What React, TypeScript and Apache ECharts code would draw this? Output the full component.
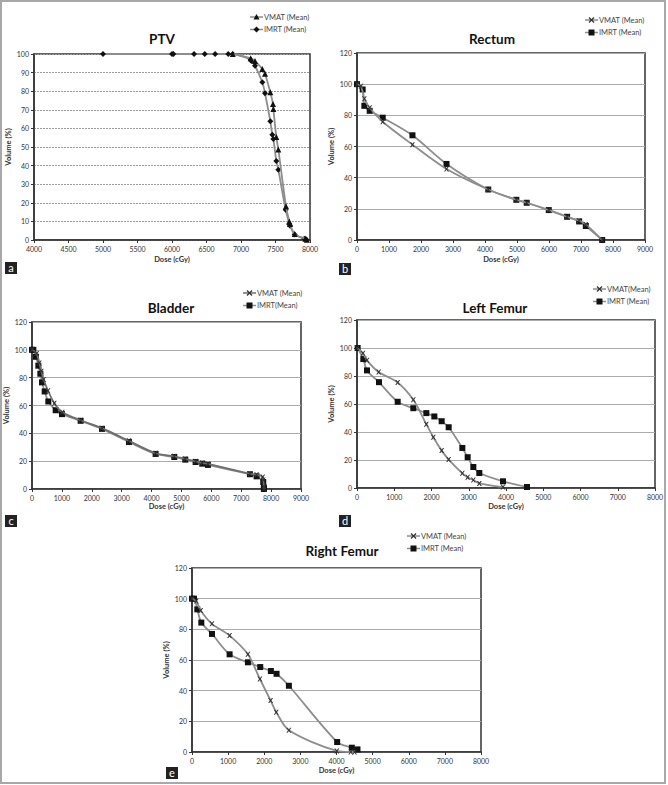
import React, { useEffect, useRef } from "react";
import * as echarts from "echarts";

// ---------- DATA (dose cGy, volume %) ----------
const ptvVmat = [
  [6880, 100], [7140, 97.7], [7203, 96.2], [7309, 92], [7348, 89.4], [7425, 79.4],
  [7464, 73.1], [7469, 70.4], [7512, 55.4], [7541, 48.7], [7652, 18.1], [7700, 9.9],
  [7710, 8.6], [7778, 3.2], [7932, 0.7], [7956, 0.2],
];
const ptvImrt = [
  [5000, 100], [6000, 100], [6020, 100], [6320, 100], [6475, 100], [6625, 100],
  [6815, 100], [6880, 100], [7140, 97], [7150, 96.3], [7203, 93.7], [7309, 84.8],
  [7348, 78.9], [7425, 63.8], [7454, 56.6], [7469, 54.3], [7512, 42.5], [7541, 37.8],
  [7647, 16.3], [7700, 8.6], [7710, 7.7], [7778, 2.9], [7918, 0.7], [7942, 0.4],
];
const rectumVmat = [
  [0, 100], [125, 98.7], [230, 90.6], [397, 84.9], [804, 75.9], [1733, 61.2],
  [2797, 45.6], [4102, 32.4], [4979, 25.8], [5303, 23.9], [5992, 19.2], [6566, 14.9],
  [6942, 12.4], [7150, 10], [7662, 0],
];
const rectumImrt = [
  [0, 100], [177, 96.6], [230, 86.1], [397, 82.9], [804, 78.5], [1733, 67.2],
  [2797, 48.8], [4102, 32.4], [4979, 25.8], [5303, 23.9], [5992, 19.2], [6566, 14.9],
  [6942, 11.9], [7150, 9], [7662, 0],
];
const bladderVmat = [
  [0, 100], [156, 97.4], [245, 90.5], [312, 84.7], [390, 78.7], [535, 70.6],
  [747, 61.7], [1014, 55.2], [1628, 49.4], [2341, 43.7], [3244, 34.6], [4136, 25.7],
  [4760, 23.5], [5128, 21.6], [5474, 19.9], [5697, 18.7], [5886, 18], [7291, 11],
  [7514, 10.3], [7720, 8.6], [7737, 6.5], [7759, 1.7], [7759, 0],
];
const bladderImrt = [
  [0, 100], [45, 100], [134, 95], [212, 88.6], [279, 82.8], [334, 76.6], [424, 70.1],
  [546, 62.9], [792, 56.6], [1003, 53.8], [1628, 49], [2341, 43.2], [3244, 33.8],
  [4136, 25.2], [4760, 23], [5128, 21.1], [5474, 19.4], [5697, 18.2], [5886, 17.3],
  [7291, 10.6], [7514, 9.1], [7737, 5], [7759, 1], [7759, 0],
];
const leftFemurVmat = [
  [0, 100], [161, 96.2], [268, 91.2], [582, 82.8], [1092, 75.4], [1512, 63],
  [1861, 45.6], [2049, 36.3], [2273, 26.7], [2461, 20.3], [2828, 10.5], [2971, 7.6],
  [3123, 5.7], [3284, 3.3], [3919, 0.7],
];
const leftFemurImrt = [
  [18, 100], [170, 92.1], [268, 84], [590, 75.6], [1092, 61.6], [1512, 57],
  [1861, 53.5], [2076, 51.1], [2273, 47.7], [2461, 43.4], [2828, 28.6], [2971, 22],
  [3123, 15], [3284, 10.7], [3919, 4.8], [4564, 0.7],
];
const rightFemurVmat = [
  [0, 100], [120, 98.4], [240, 92.3], [553, 83.6], [1041, 75.9], [1548, 63.7],
  [1880, 47.6], [2175, 33.6], [2332, 26], [2682, 14.2], [4009, 0.7], [4396, 0], [4500, 0],
];
const rightFemurImrt = [
  [0, 100], [55, 100], [147, 93], [258, 84.4], [553, 77], [1041, 63.7], [1548, 58.5],
  [1889, 55.4], [2184, 52.8], [2341, 51], [2682, 43.2], [4018, 6.5], [4424, 2.8], [4581, 1.7],
];

const panelTitles = ["PTV", "Rectum", "Bladder", "Left Femur", "Right Femur"];
const panelLetters = ["a", "b", "c", "d", "e"];
const vmatNames = ["VMAT (Mean)", "VMAT (Mean)", "VMAT (Mean)", "VMAT(Mean)", "VMAT (Mean)"];
const imrtNames = ["IMRT (Mean)", "IMRT (Mean)", "IMRT(Mean)", "IMRT (Mean)", "IMRT (Mean)"];
const xRanges = [[4000, 8000, 500], [0, 9000, 1000], [0, 9000, 1000], [0, 8000, 1000], [0, 8000, 1000]];
const yRanges = [[0, 100, 10], [0, 120, 20], [0, 120, 20], [0, 120, 20], [0, 120, 20]];
const vmatData = [ptvVmat, rectumVmat, bladderVmat, leftFemurVmat, rightFemurVmat];
const imrtData = [ptvImrt, rectumImrt, bladderImrt, leftFemurImrt, rightFemurImrt];

// ---------- LAYOUT / STYLE ----------
const FONT = 'Lato, "Open Sans", "Liberation Sans", sans-serif';
const grids = [
  { left: 34, top: 54, width: 276, height: 186 },
  { left: 357, top: 53, width: 288, height: 187 },
  { left: 32, top: 322, width: 269, height: 167 },
  { left: 357, top: 320, width: 298, height: 168 },
  { left: 192, top: 568, width: 289, height: 184 },
];
const titlePos = [[162, 39], [492, 39], [171, 308], [495, 308], [342, 551]];
const legendPos = [[250, 17], [585, 20], [243, 293], [593, 289], [407, 536]];
const letterPos = [[5, 262], [339, 263], [5, 515], [339, 515], [166, 767]];
const yNameGap = [18, 17, 17, 17, 17];
const xNameGap = [15, 15, 13, 14, 14];
const vmatSymbols = ["triangle", "x", "x", "x", "x"];
const imrtSymbols = ["diamond", "rect", "rect", "rect", "rect"];
const XPATH = "path://M0,0 L2.4,0 L5,3.4 L7.6,0 L10,0 L6.4,5 L10,10 L7.6,10 L5,6.6 L2.4,10 L0,10 L3.6,5 Z";
const LINE = "#8d8d8d";
const MARK = "#111";

function symbolOf(s: string) {
  return s === "x" ? XPATH : s;
}

function legendMarker(kind: string, cx: number, cy: number): any {
  if (kind === "triangle")
    return { type: "polygon", shape: { points: [[cx - 3, cy + 2.5], [cx + 3, cy + 2.5], [cx, cy - 3]] }, style: { fill: MARK } };
  if (kind === "diamond")
    return { type: "polygon", shape: { points: [[cx, cy - 3], [cx + 3, cy], [cx, cy + 3], [cx - 3, cy]] }, style: { fill: MARK } };
  if (kind === "rect")
    return { type: "rect", shape: { x: cx - 3, y: cy - 3, width: 6, height: 6 }, style: { fill: MARK } };
  return {
    type: "group",
    children: [
      { type: "line", shape: { x1: cx - 2.5, y1: cy - 2.5, x2: cx + 2.5, y2: cy + 2.5 }, style: { stroke: "#333", lineWidth: 1.2 } },
      { type: "line", shape: { x1: cx + 2.5, y1: cy - 2.5, x2: cx - 2.5, y2: cy + 2.5 }, style: { stroke: "#333", lineWidth: 1.2 } },
    ],
  };
}

function txt(text: string, x: number, y: number, font: string, fill: string, align = "left"): any {
  return {
    type: "text",
    x,
    y,
    style: { text, font, fill, textAlign: align, textVerticalAlign: "middle", align, verticalAlign: "middle" },
  };
}

export default function App() {
  const ref = useRef<HTMLDivElement>(null);
  useEffect(() => {
    document.body.style.margin = "0";
    const chart = echarts.init(ref.current!, null, { renderer: "svg" });
    const xAxis: any[] = [];
    const yAxis: any[] = [];
    const series: any[] = [];
    const graphic: any[] = [];

    grids.forEach((g, i) => {
      const [xmin, xmax, xint] = xRanges[i];
      const [ymin, ymax, yint] = yRanges[i];
      const axisLabel = { fontSize: 7, color: "#333", fontFamily: FONT, margin: 5, formatter: (v: number) => String(v) };
      xAxis.push({
        type: "value", gridIndex: i, min: xmin, max: xmax, interval: xint,
        name: "Dose (cGy)", nameLocation: "middle", nameGap: xNameGap[i],
        nameTextStyle: { fontSize: 7.5, fontWeight: "bold", color: "#333", fontFamily: FONT },
        axisLine: { show: true, onZero: false, lineStyle: { color: "#333", width: 1.5 } },
        axisTick: { show: true, length: 3, lineStyle: { color: "#333" } },
        splitLine: { show: false },
        axisLabel,
      });
      yAxis.push({
        type: "value", gridIndex: i, min: ymin, max: ymax, interval: yint,
        name: "Volume (%)", nameLocation: "middle", nameGap: yNameGap[i], nameRotate: 90,
        nameTextStyle: { fontSize: 7.5, fontWeight: "bold", color: "#333", fontFamily: FONT },
        axisLine: { show: true, onZero: false, lineStyle: { color: "#333", width: 1.5 } },
        axisTick: { show: true, length: 3, lineStyle: { color: "#333" } },
        splitLine: { show: true, lineStyle: { color: i === 0 ? "#9a9a9a" : "#ababab", width: 1, type: i === 0 ? [2, 1] : "solid" } },
        axisLabel,
      });
      series.push({
        type: "line", name: vmatNames[i], xAxisIndex: i, yAxisIndex: i, data: vmatData[i],
        smooth: 0.3, symbol: symbolOf(vmatSymbols[i]), symbolSize: vmatSymbols[i] === "x" ? 5 : 6,
        lineStyle: { color: i === 2 ? "#6e6e6e" : LINE, width: 1.8 },
        itemStyle: { color: vmatSymbols[i] === "x" ? "#333" : MARK }, z: 3,
      });
      series.push({
        type: "line", name: imrtNames[i], xAxisIndex: i, yAxisIndex: i, data: imrtData[i],
        smooth: 0.3, symbol: symbolOf(imrtSymbols[i]), symbolSize: 6,
        lineStyle: { color: LINE, width: 1.8 },
        itemStyle: { color: MARK }, z: 2,
      });

      graphic.push(txt(panelTitles[i], titlePos[i][0], titlePos[i][1], `bold 13.5px ${FONT}`, "#111", "center"));
      const [lx, ly] = legendPos[i];
      [[vmatNames[i], vmatSymbols[i], i === 2 ? "#6e6e6e" : LINE, ly], [imrtNames[i], imrtSymbols[i], LINE, ly + 12.5]].forEach(
        ([name, sym, col, yy]: any) => {
          graphic.push({ type: "line", shape: { x1: lx, y1: yy, x2: lx + 13, y2: yy }, style: { stroke: col, lineWidth: 1.5 } });
          graphic.push(legendMarker(sym, lx + 6.5, yy));
          graphic.push(txt(name, lx + 14, yy, `7.5px ${FONT}`, "#444"));
        }
      );
      const [bx, by] = letterPos[i];
      graphic.push({ type: "rect", shape: { x: bx, y: by, width: 12, height: 12 }, style: { fill: "#222" } });
      graphic.push(txt(panelLetters[i], bx + 6, by + 5.5, `11px ${FONT}`, "#fff", "center"));
    });

    graphic.push({ type: "rect", shape: { x: 1, y: 1, width: 664, height: 782 }, style: { fill: "none", stroke: "#a8a8a8", lineWidth: 2 } });

    chart.setOption({
      animation: false,
      backgroundColor: "#fff",
      textStyle: { fontFamily: FONT },
      grid: grids.map((g) => ({ ...g, show: true, borderColor: "#333", borderWidth: 1.5, backgroundColor: "transparent" })),
      xAxis,
      yAxis,
      series,
      graphic,
    });
    return () => chart.dispose();
  }, []);
  return <div ref={ref} style={{ width: 668, height: 785 }} />;
}
